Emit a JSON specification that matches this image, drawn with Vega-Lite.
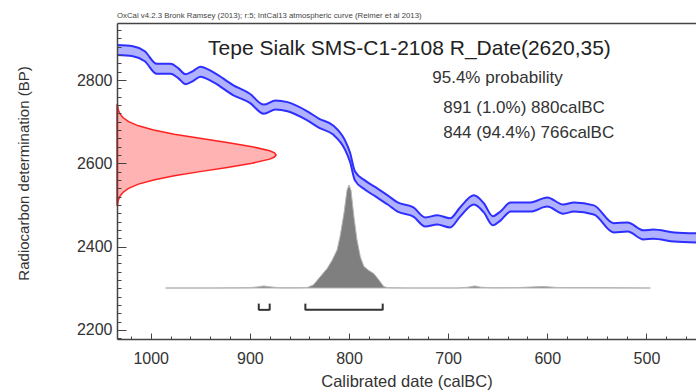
{
  "$schema": "https://vega.github.io/schema/vega-lite/v6.json",
  "width": 579,
  "height": 316,
  "autosize": "none",
  "padding": {"left": 117, "top": 23, "right": 0, "bottom": 53},
  "background": "white",
  "config": {
    "view": {"stroke": null},
    "font": "Liberation Sans",
    "text": {"font": "Liberation Sans"}
  },
  "title": {
    "text": "OxCal v4.2.3 Bronk Ramsey (2013); r:5; IntCal13 atmospheric curve (Reimer et al 2013)",
    "anchor": "start",
    "frame": "group",
    "fontSize": 7.8,
    "fontWeight": "normal",
    "color": "#444",
    "offset": 3
  },
  "datasets": {
    "curve": [
      {"cal": 1034, "hi": 2884, "lo": 2860},
      {"cal": 1018, "hi": 2881, "lo": 2857},
      {"cal": 1006, "hi": 2869, "lo": 2845},
      {"cal": 994, "hi": 2839, "lo": 2815},
      {"cal": 980, "hi": 2839, "lo": 2815},
      {"cal": 972, "hi": 2828, "lo": 2804},
      {"cal": 965, "hi": 2814, "lo": 2790},
      {"cal": 957, "hi": 2822, "lo": 2798},
      {"cal": 950, "hi": 2832, "lo": 2808},
      {"cal": 937, "hi": 2819, "lo": 2795},
      {"cal": 917, "hi": 2788, "lo": 2764},
      {"cal": 900, "hi": 2767, "lo": 2745},
      {"cal": 886, "hi": 2741, "lo": 2719},
      {"cal": 874, "hi": 2751, "lo": 2729},
      {"cal": 862, "hi": 2747, "lo": 2725},
      {"cal": 842, "hi": 2725, "lo": 2703},
      {"cal": 830, "hi": 2707, "lo": 2685},
      {"cal": 816, "hi": 2691, "lo": 2669},
      {"cal": 804, "hi": 2655, "lo": 2633},
      {"cal": 799, "hi": 2626, "lo": 2604},
      {"cal": 794, "hi": 2581, "lo": 2559},
      {"cal": 784, "hi": 2559, "lo": 2537},
      {"cal": 773, "hi": 2542, "lo": 2520},
      {"cal": 761, "hi": 2523, "lo": 2501},
      {"cal": 751, "hi": 2506, "lo": 2484},
      {"cal": 735, "hi": 2494, "lo": 2472},
      {"cal": 723, "hi": 2470, "lo": 2448},
      {"cal": 711, "hi": 2475, "lo": 2453},
      {"cal": 698, "hi": 2468, "lo": 2446},
      {"cal": 688, "hi": 2494, "lo": 2472},
      {"cal": 674, "hi": 2523, "lo": 2501},
      {"cal": 664, "hi": 2504, "lo": 2482},
      {"cal": 655, "hi": 2473, "lo": 2451},
      {"cal": 647, "hi": 2485, "lo": 2463},
      {"cal": 637, "hi": 2506, "lo": 2484},
      {"cal": 617, "hi": 2506, "lo": 2484},
      {"cal": 600, "hi": 2518, "lo": 2496},
      {"cal": 584, "hi": 2501, "lo": 2479},
      {"cal": 573, "hi": 2506, "lo": 2484},
      {"cal": 553, "hi": 2499, "lo": 2477},
      {"cal": 533, "hi": 2456, "lo": 2434},
      {"cal": 519, "hi": 2458, "lo": 2436},
      {"cal": 503, "hi": 2439, "lo": 2417},
      {"cal": 493, "hi": 2441, "lo": 2419},
      {"cal": 472, "hi": 2434, "lo": 2412},
      {"cal": 450, "hi": 2432, "lo": 2410}
    ],
    "rdate": [
      {"bp": 2500, "d": 0.003}, {"bp": 2510, "d": 0.007}, {"bp": 2520, "d": 0.017},
      {"bp": 2530, "d": 0.037}, {"bp": 2540, "d": 0.073}, {"bp": 2550, "d": 0.135},
      {"bp": 2560, "d": 0.23}, {"bp": 2570, "d": 0.36}, {"bp": 2580, "d": 0.521},
      {"bp": 2590, "d": 0.693}, {"bp": 2600, "d": 0.849}, {"bp": 2610, "d": 0.96},
      {"bp": 2615, "d": 0.99}, {"bp": 2620, "d": 1.0}, {"bp": 2625, "d": 0.99},
      {"bp": 2630, "d": 0.96}, {"bp": 2640, "d": 0.849}, {"bp": 2650, "d": 0.693},
      {"bp": 2660, "d": 0.521}, {"bp": 2670, "d": 0.36}, {"bp": 2680, "d": 0.23},
      {"bp": 2690, "d": 0.135}, {"bp": 2700, "d": 0.073}, {"bp": 2710, "d": 0.037},
      {"bp": 2720, "d": 0.017}, {"bp": 2730, "d": 0.007}, {"bp": 2740, "d": 0.003}
    ],
    "post": [
      {"cal": 985, "p": 0}, {"cal": 940, "p": 0}, {"cal": 900, "p": 0.003},
      {"cal": 891, "p": 0.012}, {"cal": 886, "p": 0.02}, {"cal": 880, "p": 0.012},
      {"cal": 870, "p": 0.002}, {"cal": 850, "p": 0.002}, {"cal": 842, "p": 0.005},
      {"cal": 836, "p": 0.03}, {"cal": 829, "p": 0.11}, {"cal": 822, "p": 0.19},
      {"cal": 817, "p": 0.27}, {"cal": 812, "p": 0.37}, {"cal": 809, "p": 0.5},
      {"cal": 805, "p": 0.73}, {"cal": 802, "p": 0.95}, {"cal": 800, "p": 1.0},
      {"cal": 798, "p": 0.95}, {"cal": 795, "p": 0.69}, {"cal": 792, "p": 0.47},
      {"cal": 788.5, "p": 0.3}, {"cal": 785, "p": 0.21}, {"cal": 780, "p": 0.17},
      {"cal": 775, "p": 0.14}, {"cal": 770, "p": 0.08}, {"cal": 765, "p": 0.015},
      {"cal": 761, "p": 0.003}, {"cal": 740, "p": 0}, {"cal": 690, "p": 0},
      {"cal": 680, "p": 0.008}, {"cal": 673, "p": 0.02}, {"cal": 667, "p": 0.008},
      {"cal": 655, "p": 0.002}, {"cal": 630, "p": 0.004}, {"cal": 604, "p": 0.015},
      {"cal": 590, "p": 0.005}, {"cal": 560, "p": 0.004}, {"cal": 530, "p": 0.002},
      {"cal": 496, "p": 0}
    ],
    "ranges": [
      {"from": 891, "to": 880},
      {"from": 844, "to": 766}
    ]
  },
  "layer": [
    {
      "data": {"name": "rdate"},
      "mark": {"type": "area", "orient": "horizontal", "fill": "#ffb3b3", "stroke": "#ff2020", "strokeWidth": 1.5},
      "encoding": {
        "y": {"field": "bp", "type": "quantitative", "scale": {"domain": [2178, 2937], "nice": false, "zero": false}, "axis": null},
        "x": {"field": "d", "type": "quantitative", "stack": null, "scale": {"domain": [0, 3.64], "nice": false}, "axis": null}
      }
    },
    {
      "data": {"name": "post"},
      "mark": {"type": "area", "fill": "#7f7f7f", "stroke": "#b5b5b5", "strokeWidth": 1},
      "encoding": {
        "x": {"field": "cal", "type": "quantitative", "scale": {"domain": [450, 1034], "reverse": true, "nice": false, "zero": false}, "axis": null},
        "y": {"field": "p", "type": "quantitative", "stack": null, "scale": {"domain": [-0.495, 2.573], "nice": false, "zero": false}, "axis": null}
      }
    },
    {
      "data": {"name": "curve"},
      "mark": {"type": "area", "color": "#b0b2ff", "interpolate": "monotone"},
      "encoding": {
        "x": {
          "field": "cal", "type": "quantitative",
          "scale": {"domain": [450, 1034], "reverse": true, "nice": false, "zero": false},
          "axis": {
            "orient": "bottom",
            "values": [500, 600, 700, 800, 900, 1000],
            "format": "d",
            "tickSize": -6,
            "tickColor": "#444",
            "domainColor": "#444",
            "domainWidth": 1.5,
            "labelFontSize": 16,
            "labelColor": "#333",
            "labelPadding": 17,
            "labelOverlap": false,
            "labelFlush": false,
            "grid": false,
            "title": "Calibrated date (calBC)",
            "titleFontSize": 16.5,
            "titleFontWeight": "normal",
            "titleColor": "#333",
            "titlePadding": 7,
            "zindex": 1
          }
        },
        "y": {
          "field": "hi", "type": "quantitative",
          "scale": {"domain": [2178, 2937], "nice": false, "zero": false},
          "axis": {
            "orient": "left",
            "values": [2200, 2400, 2600, 2800],
            "format": "d",
            "tickSize": -9,
            "tickColor": "#444",
            "domainColor": "#444",
            "domainWidth": 1.5,
            "labelFontSize": 16,
            "labelColor": "#333",
            "labelPadding": 14,
            "labelOverlap": false,
            "labelFlush": false,
            "grid": false,
            "title": "Radiocarbon determination (BP)",
            "titleFontSize": 15,
            "titleFontWeight": "normal",
            "titleColor": "#333",
            "titlePadding": 45,
            "titleY": 150,
            "zindex": 1
          }
        },
        "y2": {"field": "lo"}
      }
    },
    {
      "data": {"name": "curve"},
      "mark": {"type": "line", "color": "#2e2eff", "strokeWidth": 2, "interpolate": "monotone"},
      "encoding": {
        "x": {
          "field": "cal", "type": "quantitative",
          "scale": {"domain": [450, 1034], "reverse": true, "nice": false, "zero": false},
          "axis": {"orient": "top", "labels": false, "ticks": false, "title": null, "grid": false, "domainColor": "#444", "domainWidth": 1.5, "zindex": 1}
        },
        "y": {
          "field": "hi", "type": "quantitative",
          "scale": {"domain": [2178, 2937], "nice": false, "zero": false},
          "axis": {
            "orient": "left",
            "values": [2180,2220,2240,2260,2280,2300,2320,2340,2360,2380,2420,2440,2460,2480,2500,2520,2540,2560,2580,2620,2640,2660,2680,2700,2720,2740,2760,2780,2820,2840,2860,2880,2900,2920],
            "labels": false, "domain": false, "title": null, "grid": false,
            "tickSize": -4, "tickColor": "#444", "zindex": 1
          }
        }
      }
    },
    {
      "data": {"name": "curve"},
      "mark": {"type": "line", "color": "#2e2eff", "strokeWidth": 2, "interpolate": "monotone"},
      "encoding": {
        "x": {
          "field": "cal", "type": "quantitative",
          "scale": {"domain": [450, 1034], "reverse": true, "nice": false, "zero": false},
          "axis": {
            "orient": "bottom",
            "values": [460,480,520,540,560,580,620,640,660,680,720,740,760,780,820,840,860,880,920,940,960,980,1020],
            "labels": false, "domain": false, "title": null, "grid": false,
            "tickSize": -3, "tickColor": "#444", "zindex": 1
          }
        },
        "y": {"field": "lo", "type": "quantitative", "scale": {"domain": [2178, 2937], "nice": false, "zero": false}, "axis": null}
      }
    },
    {
      "data": {"name": "ranges"},
      "mark": {"type": "rule", "color": "#333", "strokeWidth": 2},
      "encoding": {
        "x": {"field": "from", "type": "quantitative", "scale": {"domain": [450, 1034], "reverse": true, "nice": false, "zero": false}, "axis": null},
        "x2": {"field": "to"},
        "y": {"datum": 2248, "type": "quantitative", "scale": {"domain": [2178, 2937], "nice": false, "zero": false}, "axis": null}
      }
    },
    {
      "data": {"name": "ranges"},
      "mark": {"type": "rule", "color": "#333", "strokeWidth": 2},
      "encoding": {
        "x": {"field": "from", "type": "quantitative", "scale": {"domain": [450, 1034], "reverse": true, "nice": false, "zero": false}, "axis": null},
        "y": {"datum": 2247, "type": "quantitative", "scale": {"domain": [2178, 2937], "nice": false, "zero": false}, "axis": null},
        "y2": {"datum": 2263}
      }
    },
    {
      "data": {"name": "ranges"},
      "mark": {"type": "rule", "color": "#333", "strokeWidth": 2},
      "encoding": {
        "x": {"field": "to", "type": "quantitative", "scale": {"domain": [450, 1034], "reverse": true, "nice": false, "zero": false}, "axis": null},
        "y": {"datum": 2247, "type": "quantitative", "scale": {"domain": [2178, 2937], "nice": false, "zero": false}, "axis": null},
        "y2": {"datum": 2263}
      }
    },
    {
      "data": {"values": [{"label": "Tepe Sialk SMS-C1-2108 R_Date(2620,35)"}]},
      "mark": {"type": "text", "align": "center", "baseline": "alphabetic", "fontSize": 21, "color": "#222"},
      "encoding": {
        "text": {"field": "label"},
        "x": {"datum": 739, "type": "quantitative", "scale": {"domain": [450, 1034], "reverse": true, "nice": false, "zero": false}, "axis": null},
        "y": {"datum": 2860, "type": "quantitative", "scale": {"domain": [2178, 2937], "nice": false, "zero": false}, "axis": null}
      }
    },
    {
      "data": {"values": [{"label": "95.4% probability"}]},
      "mark": {"type": "text", "align": "left", "baseline": "alphabetic", "fontSize": 17, "color": "#333"},
      "encoding": {
        "text": {"field": "label"},
        "x": {"datum": 716, "type": "quantitative", "scale": {"domain": [450, 1034], "reverse": true, "nice": false, "zero": false}, "axis": null},
        "y": {"datum": 2794, "type": "quantitative", "scale": {"domain": [2178, 2937], "nice": false, "zero": false}, "axis": null}
      }
    },
    {
      "data": {"values": [{"label": "891 (1.0%) 880calBC"}]},
      "mark": {"type": "text", "align": "left", "baseline": "alphabetic", "fontSize": 17, "color": "#333"},
      "encoding": {
        "text": {"field": "label"},
        "x": {"datum": 705, "type": "quantitative", "scale": {"domain": [450, 1034], "reverse": true, "nice": false, "zero": false}, "axis": null},
        "y": {"datum": 2720, "type": "quantitative", "scale": {"domain": [2178, 2937], "nice": false, "zero": false}, "axis": null}
      }
    },
    {
      "data": {"values": [{"label": "844 (94.4%) 766calBC"}]},
      "mark": {"type": "text", "align": "left", "baseline": "alphabetic", "fontSize": 17, "color": "#333"},
      "encoding": {
        "text": {"field": "label"},
        "x": {"datum": 705, "type": "quantitative", "scale": {"domain": [450, 1034], "reverse": true, "nice": false, "zero": false}, "axis": null},
        "y": {"datum": 2660, "type": "quantitative", "scale": {"domain": [2178, 2937], "nice": false, "zero": false}, "axis": null}
      }
    }
  ],
  "resolve": {
    "scale": {"x": "independent", "y": "independent"},
    "axis": {"x": "independent", "y": "independent"}
  }
}
